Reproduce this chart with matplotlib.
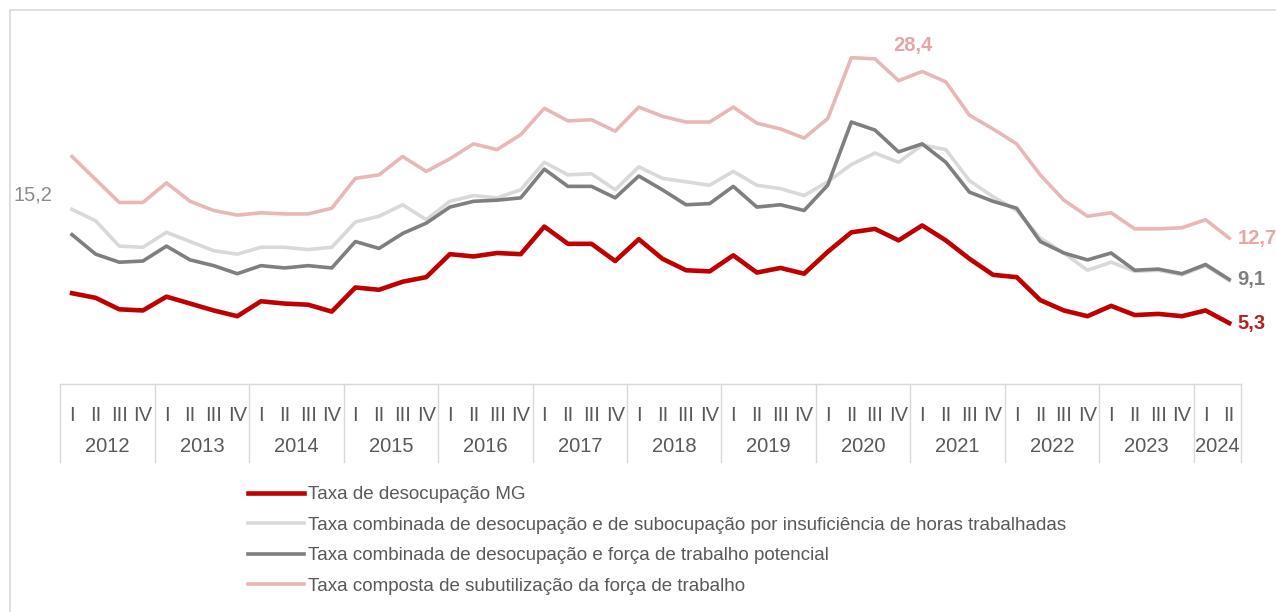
import matplotlib
matplotlib.use("Agg")
import matplotlib.pyplot as plt
from matplotlib.lines import Line2D
from matplotlib.patches import Rectangle
import matplotlib.transforms as mtransforms

plt.rcParams['font.family'] = ['Liberation Sans', 'DejaVu Sans']

years = ['2012', '2013', '2014', '2015', '2016', '2017', '2018',
         '2019', '2020', '2021', '2022', '2023', '2024']
quarters_per_year = [4, 4, 4, 4, 4, 4, 4, 4, 4, 4, 4, 4, 2]
quarter_names = ['I', 'II', 'III', 'IV']

desocupacao = [7.9, 7.5, 6.5, 6.4, 7.6, 7.0, 6.4, 5.9, 7.2, 7.0, 6.9, 6.3,
               8.4, 8.2, 8.9, 9.3, 11.3, 11.1, 11.4, 11.3, 13.7, 12.2, 12.2, 10.7,
               12.6, 10.9, 9.9, 9.8, 11.2, 9.7, 10.1, 9.6, 11.5, 13.2, 13.5, 12.5,
               13.8, 12.5, 10.9, 9.5, 9.3, 7.3, 6.4, 5.9, 6.8, 6.0, 6.1, 5.9,
               6.4, 5.3]
desoc_subocup = [15.2, 14.2, 12.0, 11.9, 13.2, 12.4, 11.6, 11.3, 11.9, 11.9, 11.7, 11.9,
                 14.1, 14.6, 15.6, 14.3, 15.9, 16.4, 16.2, 16.9, 19.3, 18.2, 18.3, 16.9,
                 18.9, 17.9, 17.6, 17.3, 18.5, 17.3, 17.0, 16.4, 17.6, 19.1, 20.1, 19.3,
                 20.8, 20.4, 17.7, 16.3, 15.1, 12.7, 11.4, 9.9, 10.6, 9.8, 9.9, 9.5,
                 10.3, 9.0]
desoc_ftp = [13.0, 11.3, 10.6, 10.7, 12.0, 10.8, 10.3, 9.6, 10.3, 10.1, 10.3, 10.1,
             12.4, 11.8, 13.1, 14.0, 15.4, 15.9, 16.0, 16.2, 18.7, 17.2, 17.2, 16.2,
             18.1, 16.9, 15.6, 15.7, 17.2, 15.4, 15.6, 15.1, 17.3, 22.8, 22.1, 20.2,
             20.9, 19.3, 16.7, 15.9, 15.3, 12.4, 11.4, 10.8, 11.4, 9.9, 10.0, 9.6,
             10.4, 9.1]
subutilizacao = [19.8, 17.8, 15.8, 15.8, 17.5, 15.9, 15.1, 14.7, 14.9, 14.8, 14.8, 15.3,
                 17.9, 18.2, 19.8, 18.5, 19.6, 20.9, 20.4, 21.7, 24.0, 22.9, 23.0, 22.0,
                 24.1, 23.3, 22.8, 22.8, 24.1, 22.7, 22.2, 21.4, 23.1, 28.4, 28.3, 26.4,
                 27.2, 26.3, 23.4, 22.2, 20.9, 18.2, 16.0, 14.6, 14.9, 13.5, 13.5, 13.6,
                 14.3, 12.7]

labels = ['Taxa de desocupação MG',
          'Taxa combinada de desocupação e de subocupação por insuficiência de horas trabalhadas',
          'Taxa combinada de desocupação e força de trabalho potencial',
          'Taxa composta de subutilização da força de trabalho']

W, H = 1276, 612
fig = plt.figure(figsize=(W / 100, H / 100), dpi=100)
fig.patch.set_facecolor('white')

# chart border
fig.patches.append(Rectangle((10 / W, -0.1), 1.2, (H - 10) / H + 0.1, transform=fig.transFigure,
                             fill=False, edgecolor='#d9d9d9', linewidth=1.2))

x_left, x_right = 60.2, 1241
y_zero, y_top = 384, 39.3
ax = fig.add_axes([x_left / W, 1 - y_zero / H, (x_right - x_left) / W, (y_zero - y_top) / H])
n = len(desocupacao)
x = list(range(n))

c_red = '#C00000'
c_light = '#D9D9D9'
c_dark = '#7F7F7F'
c_pink = '#E6B9B8'

l2, = ax.plot(x, desoc_subocup, color=c_light, lw=2.6, solid_joinstyle='round', zorder=2)
l4, = ax.plot(x, subutilizacao, color=c_pink, lw=2.6, solid_joinstyle='round', zorder=3)
l3, = ax.plot(x, desoc_ftp, color=c_dark, lw=2.6, solid_joinstyle='round', zorder=4)
l1, = ax.plot(x, desocupacao, color=c_red, lw=3.3, solid_joinstyle='round', zorder=5)

ax.set_xlim(-0.5, n - 0.5)
ax.set_ylim(0, 30)
for s in ['left', 'right', 'top']:
    ax.spines[s].set_visible(False)
ax.spines['bottom'].set_color('#d9d9d9')
ax.spines['bottom'].set_linewidth(1.0)
ax.set_yticks([])

# quarter tick labels
qlabels = []
for nq in quarters_per_year:
    qlabels += quarter_names[:nq]
ax.set_xticks(x)
ax.set_xticklabels(qlabels, fontsize=14.5, color='#595959')
ax.tick_params(axis='x', length=0, pad=16)

# year labels and separators
trans = mtransforms.blended_transform_factory(ax.transData, ax.transAxes)
ax_h_px = y_zero - y_top
start = 0
bounds = [-0.5]
for yr, nq in zip(years, quarters_per_year):
    center = start + (nq - 1) / 2
    ax.text(center, -(447 - y_zero) / ax_h_px, yr, transform=trans, ha='center', va='center',
            fontsize=14.5, color='#595959')
    start += nq
    bounds.append(start - 0.5)
for b in bounds:
    ax.add_line(Line2D([b, b], [0, -(462 - y_zero) / ax_h_px], transform=trans, color='#d9d9d9',
                       lw=1.0, clip_on=False))

# data labels
ax.annotate('15,2', (0, desoc_subocup[0]), xytext=(-28, 10), textcoords='offset points',
            ha='center', va='center', fontsize=14.5, color='#8c8c8c')
ax.annotate('28,4', (33, subutilizacao[33]), xytext=(44, 9), textcoords='offset points',
            ha='center', va='center', fontsize=14.5, color='#E6A6A8', fontweight='bold')
ax.annotate('12,7', (n - 1, subutilizacao[-1]), xytext=(6, 0), textcoords='offset points',
            ha='left', va='center', fontsize=14.5, color='#E6A6A8', fontweight='bold')
ax.annotate('9,1', (n - 1, desoc_ftp[-1]), xytext=(6, 0), textcoords='offset points',
            ha='left', va='center', fontsize=14.5, color='#7F7F7F', fontweight='bold')
ax.annotate('5,3', (n - 1, desocupacao[-1]), xytext=(6, 0), textcoords='offset points',
            ha='left', va='center', fontsize=14.5, color='#B22222', fontweight='bold')

leg = fig.legend([l1, l2, l3, l4], labels, loc='upper left',
                 bbox_to_anchor=(248 / W, 1 - 486 / H), frameon=False,
                 fontsize=13.5, handlelength=3.0, handletextpad=0.2,
                 labelspacing=0.72, borderaxespad=0, borderpad=0)
for t in leg.get_texts():
    t.set_color('#595959')

fig.savefig('out.png', dpi=100, facecolor='white')
